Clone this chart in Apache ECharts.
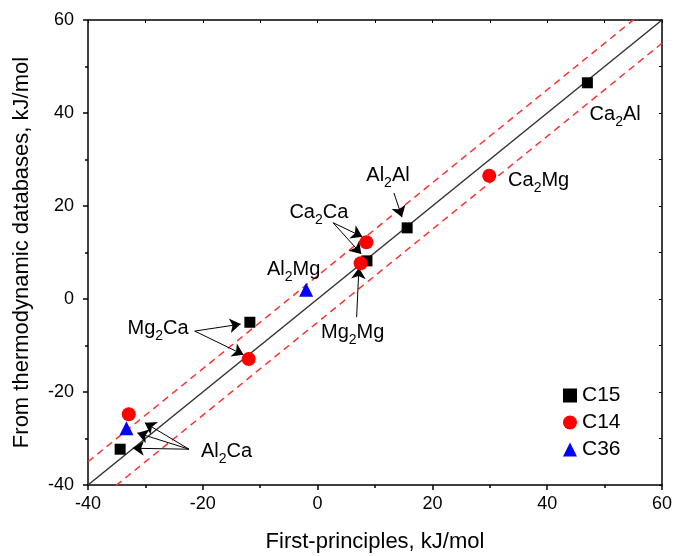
<!DOCTYPE html>
<html><head><meta charset="utf-8">
<script src="https://cdn.jsdelivr.net/npm/echarts@6/dist/echarts.min.js"></script>
<style>html,body{margin:0;padding:0;background:#fff}#c{width:674px;height:556px}</style>
</head><body><div id="c"></div>
<script>
// ---- data ----
const c15 = [[47, 46.5], [15.6, 15.3], [8.6, 8.2], [-11.8, -5.0], [-34.4, -32.3]];
const c14 = [[29.9, 26.5], [8.5, 12.2], [7.5, 7.7], [-12, -12.9], [-32.9, -24.8]];
const c36 = [[-2, 2], [-33.3, -27.8]];
const parityX = [-40, 60];
const bandOffset = 5;
// annotation labels: [base, subscript, tail, x (left edge), y (middle)]
const labels = [
  ['Ca', '2', 'Al', 47.3, 39.6],
  ['Ca', '2', 'Mg', 33.1, 25.4],
  ['Al', '2', 'Al', 8.4, 26.5],
  ['Ca', '2', 'Ca', -5, 18.6],
  ['Al', '2', 'Mg', -8.9, 6.4],
  ['Mg', '2', 'Mg', 0.5, -7.2],
  ['Mg', '2', 'Ca', -33.2, -6.3],
  ['Al', '2', 'Ca', -20.4, -32.8]
];
// arrows: [fromX, fromY, toX, toY]
const arrows = [
  [13.3, 22.8, 14.7, 17.6],
  [2.7, 16.4, 7.8, 13.4],
  [2.7, 16.4, 7.6, 9.7],
  [6.8, -3.9, 7.2, 6.7],
  [-21.4, -6.9, -13.4, -5.4],
  [-21.4, -6.9, -12.9, -12.0],
  [-22.4, -32.3, -30.1, -26.6],
  [-22.4, -32.3, -31.4, -28.8],
  [-22.4, -32.3, -32.2, -32.1]
];

const FONT = '"Liberation Sans", Arial, sans-serif';
const line = (off) => parityX.map(x => [x, x + off]);

const chart = echarts.init(document.getElementById('c'), null, {renderer: 'canvas'});
const axisLineStyle = {color: '#000', width: 1.5};
chart.setOption({
  animation: false,
  textStyle: {fontFamily: FONT, color: '#000'},
  grid: {left: 88, right: 12, top: 20, bottom: 71, outerBoundsMode: 'none', containLabel: false},
  legend: {
    orient: 'vertical', left: 558, top: 380,
    itemWidth: 14, itemHeight: 14, itemGap: 6,
    textStyle: {fontFamily: FONT, fontSize: 21, color: '#000'},
    data: ['C15', 'C14', 'C36']
  },
  xAxis: [{
    type: 'value', min: -40, max: 60, interval: 20,
    axisLine: {onZero: false, lineStyle: axisLineStyle},
    axisTick: {inside: false, length: 5, lineStyle: {color: '#000', width: 1.5}},
    minorTick: {show: true, splitNumber: 2, length: 3, lineStyle: {color: '#000', width: 1.5}},
    splitLine: {show: false},
    axisLabel: {fontSize: 18, color: '#000', margin: 10, fontFamily: FONT},
    name: 'First-principles, kJ/mol', nameLocation: 'middle', nameGap: 46,
    nameTextStyle: {fontSize: 22, color: '#000', fontFamily: FONT}
  }, {
    type: 'value', position: 'top', min: -40, max: 60, interval: 10,
    axisLine: {onZero: false, lineStyle: axisLineStyle},
    axisTick: {inside: true, length: 3, lineStyle: {color: '#000', width: 1}},
    axisLabel: {show: false}, splitLine: {show: false}
  }],
  yAxis: [{
    type: 'value', min: -40, max: 60, interval: 20,
    axisLine: {onZero: false, lineStyle: axisLineStyle},
    axisTick: {inside: false, length: 5, lineStyle: {color: '#000', width: 1.5}},
    minorTick: {show: true, splitNumber: 2, length: 3, lineStyle: {color: '#000', width: 1.5}},
    splitLine: {show: false},
    axisLabel: {fontSize: 18, color: '#000', margin: 14, fontFamily: FONT},
    name: 'From thermodynamic databases, kJ/mol', nameLocation: 'middle', nameGap: 55,
    nameTextStyle: {fontSize: 22, color: '#000', fontFamily: FONT}
  }, {
    type: 'value', position: 'right', min: -40, max: 60, interval: 10,
    axisLine: {onZero: false, lineStyle: axisLineStyle},
    axisTick: {inside: true, length: 3, lineStyle: {color: '#000', width: 1}},
    axisLabel: {show: false}, splitLine: {show: false}
  }],
  series: [
    {type: 'line', data: line(0), symbol: 'none', silent: true,
     lineStyle: {color: '#333', width: 1.5}, z: 1},
    {type: 'line', data: line(bandOffset), symbol: 'none', silent: true,
     lineStyle: {color: '#ff3333', width: 1.5, type: [7, 5]}, z: 1},
    {type: 'line', data: line(-bandOffset), symbol: 'none', silent: true,
     lineStyle: {color: '#ff3333', width: 1.5, type: [7, 5]}, z: 1},
    {type: 'lines', coordinateSystem: 'cartesian2d', silent: true, z: 3,
     symbol: ['none', 'arrow'], symbolSize: 11,
     lineStyle: {color: '#000', width: 1, opacity: 1},
     data: arrows.map(a => ({coords: [[a[0], a[1]], [a[2], a[3]]]}))},
    {name: 'C15', type: 'scatter', data: c15, symbol: 'rect', symbolSize: 11,
     itemStyle: {color: '#000', opacity: 1}, z: 4},
    {name: 'C14', type: 'scatter', data: c14, symbol: 'circle', symbolSize: 14,
     itemStyle: {color: '#ff0000', opacity: 1}, z: 4},
    {name: 'C36', type: 'scatter', data: c36, symbol: 'triangle', symbolSize: 14,
     itemStyle: {color: '#0000ff', opacity: 1}, z: 4},
    {type: 'scatter', silent: true, symbolSize: 1, z: 5,
     itemStyle: {color: 'rgba(0,0,0,0)'},
     label: {show: true, position: 'right', distance: 0, opacity: 1,
       color: '#000', textBorderWidth: 0, fontSize: 20, fontFamily: FONT,
       formatter: p => labels[p.dataIndex][0] + '{s|' + labels[p.dataIndex][1] + '}' + labels[p.dataIndex][2],
       rich: {s: {fontSize: 14, fontFamily: FONT, color: '#000', verticalAlign: 'bottom', padding: [15, 0, 0, 0]}}},
     data: labels.map(l => [l[3], l[4]])}
  ]
});
</script></body></html>
